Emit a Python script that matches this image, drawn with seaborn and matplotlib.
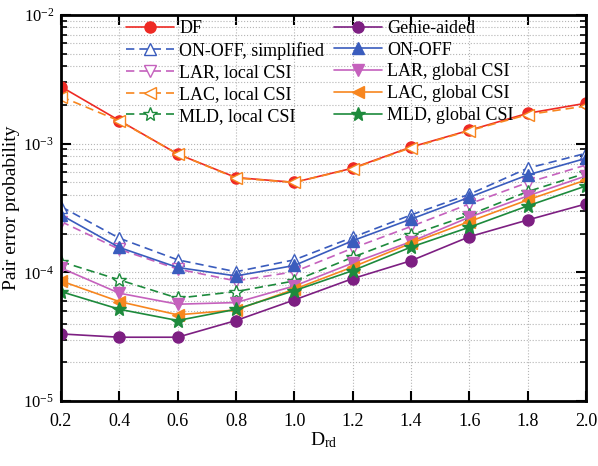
import matplotlib
matplotlib.use("Agg")
import matplotlib.pyplot as plt
import seaborn as sns

# Data
d_rd = [0.2, 0.4, 0.6, 0.8, 1.0, 1.2, 1.4, 1.6, 1.8, 2.0]

pe_df = [2.77e-3, 1.51e-3, 8.3e-4, 5.45e-4, 5.0e-4, 6.45e-4, 9.4e-4, 1.27e-3, 1.72e-3, 2.06e-3]
pe_onoff_simp = [3.24e-4, 1.84e-4, 1.25e-4, 1.01e-4, 1.25e-4, 1.87e-4, 2.79e-4, 4.04e-4, 6.44e-4, 8.41e-4]
pe_lar_local = [2.48e-4, 1.51e-4, 1.06e-4, 8.57e-5, 1.01e-4, 1.54e-4, 2.27e-4, 3.4e-4, 4.98e-4, 6.82e-4]
pe_lac_local = [2.32e-3, 1.5e-3, 8.3e-4, 5.4e-4, 5.0e-4, 6.4e-4, 9.3e-4, 1.26e-3, 1.68e-3, 1.96e-3]
pe_mld_local = [1.21e-4, 8.73e-5, 6.3e-5, 7.08e-5, 8.57e-5, 1.31e-4, 1.95e-4, 2.79e-4, 4.24e-4, 5.89e-4]

pe_genie = [3.32e-5, 3.13e-5, 3.13e-5, 4.22e-5, 6.1e-5, 8.93e-5, 1.23e-4, 1.89e-4, 2.55e-4, 3.4e-4]
pe_onoff = [2.79e-4, 1.56e-4, 1.09e-4, 9.37e-5, 1.13e-4, 1.76e-4, 2.59e-4, 3.83e-4, 5.71e-4, 7.69e-4]
pe_lar_global = [1.08e-4, 6.88e-5, 5.65e-5, 5.82e-5, 7.83e-5, 1.18e-4, 1.73e-4, 2.68e-4, 3.92e-4, 5.61e-4]
pe_lac_global = [8.57e-5, 5.92e-5, 4.67e-5, 5.1e-5, 7.39e-5, 1.1e-4, 1.68e-4, 2.48e-4, 3.65e-4, 5.22e-4]
pe_mld_global = [7.08e-5, 5.16e-5, 4.22e-5, 5.16e-5, 7.2e-5, 1.03e-4, 1.57e-4, 2.24e-4, 3.28e-4, 4.69e-4]

red = '#ee2a24'
purple = '#7d1f82'
blue = '#3a5cbd'
pink = '#c561bd'
orange = '#f7861f'
green = '#1d8a3c'

# label, values, colour, marker, dashed, filled
series = [
    ('DF', pe_df, red, 'o', False, True),
    ('ON-OFF, simplified', pe_onoff_simp, blue, '^', True, False),
    ('LAR, local CSI', pe_lar_local, pink, 'v', True, False),
    ('LAC, local CSI', pe_lac_local, orange, '<', True, False),
    ('MLD, local CSI', pe_mld_local, green, '*', True, False),
    ('Genie-aided', pe_genie, purple, 'o', False, True),
    ('ON-OFF', pe_onoff, blue, '^', False, True),
    ('LAR, global CSI', pe_lar_global, pink, 'v', False, True),
    ('LAC, global CSI', pe_lac_global, orange, '<', False, True),
    ('MLD, global CSI', pe_mld_global, green, '*', False, True),
]

sns.set_style("ticks")
plt.rcParams['font.family'] = ['Liberation Serif', 'DejaVu Serif']
plt.rcParams['mathtext.fontset'] = 'stix'
plt.rcParams['text.color'] = 'black'
plt.rcParams['axes.labelcolor'] = 'black'
plt.rcParams['xtick.color'] = 'black'
plt.rcParams['ytick.color'] = 'black'
plt.rcParams['axes.edgecolor'] = 'black'

fig = plt.figure(figsize=(5.98, 4.66), dpi=100)
ax = fig.add_axes([0.102, 0.1395, 0.878, 0.8285])

for label, vals, col, mk, dashed, filled in series:
    ms = 10 if mk == '*' else 8
    sns.lineplot(x=d_rd, y=vals, ax=ax, color=col, marker=mk,
                 linestyle=(0, (5, 3)) if dashed else '-',
                 linewidth=1.2, markersize=ms,
                 markerfacecolor=col if filled else 'white',
                 markeredgecolor=col, markeredgewidth=1.0,
                 label=label)

ax.set_yscale('log')
ax.set_ylim(1e-5, 1e-2)
ax.set_xlim(0.2, 2.0)
ax.set_xticks(d_rd)
ax.set_xticklabels(['%.1f' % v for v in d_rd])

ax.grid(which='both', linestyle=':', color='#b5b5b5', linewidth=0.8)
ax.tick_params(which='both', direction='in', top=True, right=True, labelsize=13)
ax.tick_params(which='major', length=7, width=1.5)
ax.tick_params(which='minor', length=4, width=1.2)
ax.tick_params(axis='x', pad=9)
ax.tick_params(axis='y', labelsize=12, pad=5)
for sp in ax.spines.values():
    sp.set_linewidth(2)

ax.set_xlabel(r'D$_\mathregular{rd}$', fontsize=14, labelpad=0)
ax.set_ylabel('Pair error probability', fontsize=14, labelpad=2)

ax.legend(loc='upper left', bbox_to_anchor=(0.106, 1.01), ncol=2,
          frameon=False, fontsize=13, handlelength=2.7, columnspacing=0.5,
          labelspacing=0.26, handletextpad=0.28, borderpad=0)

fig.savefig('out.png', dpi=100)
